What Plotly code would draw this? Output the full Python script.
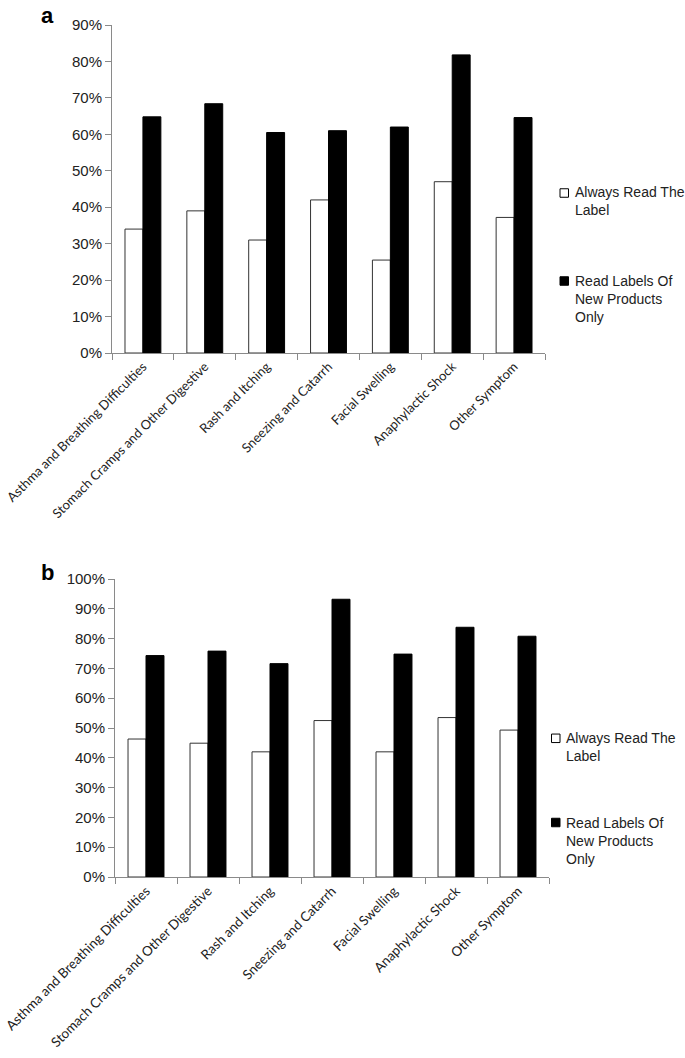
import plotly.graph_objects as go

W, H = 685, 1058

categories = [
    "Asthma and Breathing Difficulties",
    "Stomach Cramps and Other Digestive",
    "Rash and Itching",
    "Sneezing and Catarrh",
    "Facial Swelling",
    "Anaphylactic Shock",
    "Other Symptom",
]
series_names = ["Always Read The<br>Label", "Read Labels Of<br>New Products<br>Only"]
series_fill = ["white", "black"]

a_always = [0.34, 0.39, 0.31, 0.42, 0.255, 0.47, 0.372]
a_new = [0.648, 0.684, 0.605, 0.610, 0.620, 0.818, 0.646]

b_always = [0.463, 0.449, 0.420, 0.525, 0.420, 0.535, 0.493]
b_new = [0.743, 0.758, 0.716, 0.932, 0.748, 0.838, 0.808]

fig = go.Figure()

AX = "#8a8a8a"
TICKFONT = dict(family="Liberation Sans, Arial, sans-serif", size=15, color="#222")
CATFONT_A = dict(family="Lato, Open Sans, sans-serif", size=13, color="#222")
CATFONT_B = dict(family="Lato, Open Sans, sans-serif", size=13.4, color="#222")
LEGFONT = dict(family="Liberation Sans, Arial, sans-serif", size=14, color="#222")


def px_x(p):
    return p / W


def px_y(p):
    return 1 - p / H


def add_panel(vals_w, vals_b, xa, ya):
    fig.add_trace(go.Bar(
        x=categories, y=vals_w, name=series_names[0].replace("<br>", " "), xaxis=xa, yaxis=ya,
        marker=dict(color=series_fill[0], line=dict(color="#333", width=1)),
        showlegend=False,
    ))
    fig.add_trace(go.Bar(
        x=categories, y=vals_b, name=series_names[1].replace("<br>", " "), xaxis=xa, yaxis=ya,
        marker=dict(color=series_fill[1], line=dict(color="black", width=1)),
        showlegend=False,
    ))


add_panel(a_always, a_new, "x", "y")
add_panel(b_always, b_new, "x2", "y2")

# legend boxes drawn as shapes + text annotations (pixel layout positions)
legend_layout = [
    (560, 573, [(193, 201.4), (281, 298.8)]),
    (551.5, 564, [(738.3, 747), (822.5, 840.7)]),
]
shapes = []
annotations = []
for sq_x, tx, items in legend_layout:
    for (sq_yc, t_yc), name, fill in zip(items, series_names, series_fill):
        shapes.append(dict(
            type="rect", xref="paper", yref="paper",
            x0=px_x(sq_x), x1=px_x(sq_x + 8.5),
            y0=px_y(sq_yc + 4.25), y1=px_y(sq_yc - 4.25),
            fillcolor=fill, line=dict(color="black", width=1),
        ))
        annotations.append(dict(
            text=name, x=px_x(tx), y=px_y(t_yc), xref="paper", yref="paper",
            xanchor="left", yanchor="middle", align="left", showarrow=False,
            font=LEGFONT,
        ))

annotations += [
    dict(text="<b>a</b>", x=px_x(47), y=px_y(15), xref="paper", yref="paper",
         xanchor="center", yanchor="middle", showarrow=False,
         font=dict(family="Liberation Sans, Arial", size=22, color="black")),
    dict(text="<b>b</b>", x=px_x(47), y=px_y(572), xref="paper", yref="paper",
         xanchor="center", yanchor="middle", showarrow=False,
         font=dict(family="Liberation Sans, Arial", size=22, color="black")),
]

xcommon = dict(type="category", tickson="boundaries", ticks="outside", ticklen=6,
               tickcolor=AX, showline=True, linecolor=AX, linewidth=1,
               tickangle=-45, showgrid=False, fixedrange=True,
               automargin=False)
ycommon = dict(tickformat=".0%", dtick=0.1, ticks="outside", ticklen=6, tickcolor=AX,
               showline=True, linecolor=AX, linewidth=1, showgrid=False,
               zeroline=False, tickfont=TICKFONT, fixedrange=True, automargin=False)

fig.update_layout(
    width=W, height=H,
    margin=dict(l=0, r=0, t=0, b=0, autoexpand=False),
    paper_bgcolor="white", plot_bgcolor="white",
    barmode="group", bargap=0.42, bargroupgap=0,
    xaxis=dict(domain=[px_x(112), px_x(545)], anchor="y", tickfont=CATFONT_A, **xcommon),
    yaxis=dict(domain=[px_y(353), px_y(25)], range=[0, 0.9], anchor="x", **ycommon),
    xaxis2=dict(domain=[px_x(115), px_x(549)], anchor="y2", tickfont=CATFONT_B, **xcommon),
    yaxis2=dict(domain=[px_y(877), px_y(579)], range=[0, 1.0], anchor="x2", **ycommon),
    showlegend=False,
    shapes=shapes,
    annotations=annotations,
)

fig.write_html(
    "out.html",
    config={"displayModeBar": False},
    post_script="document.body.style.margin='0';document.body.style.padding='0';",
)
